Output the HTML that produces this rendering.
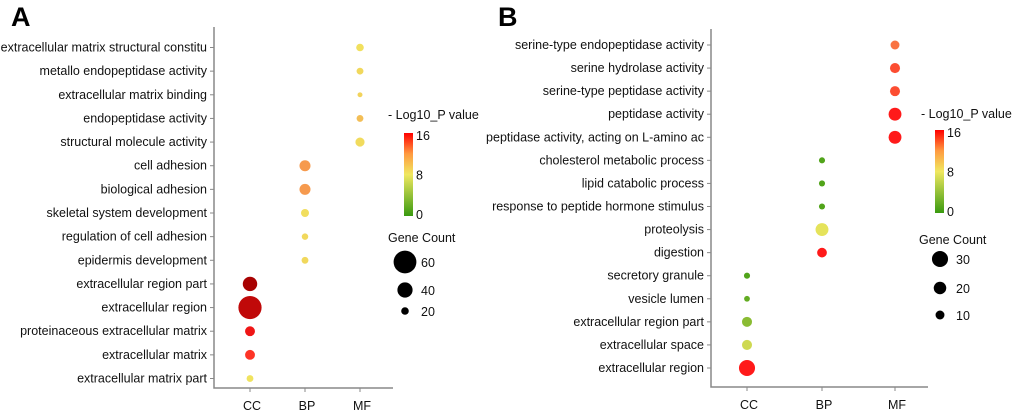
<!DOCTYPE html>
<html><head><meta charset="utf-8"><style>
body{margin:0;background:#fff;}
svg{display:block;font-family:"Liberation Sans",Arial,sans-serif;}
</style></head><body>
<svg id="c" width="1020" height="417" viewBox="0 0 1020 417">
<defs>
<linearGradient id="cb" x1="0" y1="1" x2="0" y2="0">
<stop offset="0" stop-color="#3a9a10"/><stop offset="0.5" stop-color="#f0e860"/><stop offset="0.75" stop-color="#ff9a40"/><stop offset="1" stop-color="#ff0000"/>
</linearGradient>
</defs>
</svg>
<script>
// Panel A data
const catsA = ["extracellular matrix structural constitu","metallo endopeptidase activity","extracellular matrix binding","endopeptidase activity","structural molecule activity","cell adhesion","biological adhesion","skeletal system development","regulation of cell adhesion","epidermis development","extracellular region part","extracellular region","proteinaceous extracellular matrix","extracellular matrix","extracellular matrix part"];
const groupA = ["MF","MF","MF","MF","MF","BP","BP","BP","BP","BP","CC","CC","CC","CC","CC"];
const countA = [20,18,13,18,24,29,29,21,17,18,38,61,26,26,18];
const pvalA = [8.3,8.6,8.8,9.6,8.5,11,11,8.4,8.6,8.6,21.5,20,17,15,8.2];
const sizeTicksA = [60,40,20];
// Panel B data
const catsB = ["serine-type endopeptidase activity","serine hydrolase activity","serine-type peptidase activity","peptidase activity","peptidase activity, acting on L-amino ac","cholesterol metabolic process","lipid catabolic process","response to peptide hormone stimulus","proteolysis","digestion","secretory granule","vesicle lumen","extracellular region part","extracellular space","extracellular region"];
const groupB = ["MF","MF","MF","MF","MF","BP","BP","BP","BP","BP","CC","CC","CC","CC","CC"];
const countB = [10,13,13,21,21,2,2,2,21,12,2,1,13,13,30];
const pvalB = [12.5,14,14,16,16,1,1,1,7.5,16,1,1.8,3.5,6.5,16];
const sizeTicksB = [30,20,10];
const groups = ["CC","BP","MF"];
const colorTicks = [16,8,0];

const svg=document.getElementById('c');
const NS='http://www.w3.org/2000/svg';
function mk(tag,attrs,parent){const e=document.createElementNS(NS,tag);for(const k in attrs)e.setAttribute(k,attrs[k]);(parent||svg).appendChild(e);return e;}
function lerp(a,b,t){return a+(b-a)*t;}
function hex(c){return [parseInt(c.slice(1,3),16),parseInt(c.slice(3,5),16),parseInt(c.slice(5,7),16)];}
const stops=[[0,"#3a9a10"],[8,"#f0e860"],[12,"#f88048"],[16,"#ff1a1a"],[22,"#a00000"]];
function color(v){
  if(v<=stops[0][0])return stops[0][1];
  for(let i=1;i<stops.length;i++){if(v<=stops[i][0]){const t=(v-stops[i-1][0])/(stops[i][0]-stops[i-1][0]);const a=hex(stops[i-1][1]),b=hex(stops[i][1]);return `rgb(${Math.round(lerp(a[0],b[0],t))},${Math.round(lerp(a[1],b[1],t))},${Math.round(lerp(a[2],b[2],t))})`;}}
  return stops[stops.length-1][1];
}
function panel(o){
  const g=mk('g',{});
  
  
  const t=mk('text',{x:o.letterX,y:26,'font-size':27,'font-weight':'bold',fill:'#000'},g);t.textContent=o.letter;
  
  const n=o.cats.length;
  const yS=i=>o.yTop+(o.yBot-o.yTop)*i/(n-1);
  const xS=gr=>o.gx[groups.indexOf(gr)];
  const ax=mk('path',{d:`M${o.ax} ${o.axTop}V${o.axBot}H${o.axRight}`,stroke:'#888',fill:'none','stroke-width':1.5},g);
  
  o.cats.forEach((c,i)=>{
    const y=yS(i);
    mk('line',{x1:o.ax-4,x2:o.ax,y1:y,y2:y,stroke:'#888'},g);
    const tx=mk('text',{x:o.ax-7,y:y+4,'font-size':12.5,'text-anchor':'end',fill:'#111'},g);tx.textContent=c;
    
    const ci=mk('circle',{cx:xS(o.group[i]),cy:y,r:o.r(o.count[i]),fill:color(o.pval[i])},g);
    
  });
  groups.forEach(gr=>{
    mk('line',{x1:xS(gr),x2:xS(gr),y1:o.axBot,y2:o.axBot+4,stroke:'#888'},g);
    const tx=mk('text',{x:xS(gr)+2,y:o.axBot+22,'font-size':12.5,'text-anchor':'middle',fill:'#111'},g);tx.textContent=gr;
    
  });
  const lt=mk('text',{x:o.lx,y:o.ly,'font-size':12.5,fill:'#111'},g);lt.textContent='- Log10_P value';
  
  const bar=mk('rect',{x:o.cbx,y:o.cbTop,width:9,height:o.cbBot-o.cbTop,fill:'url(#cb)'},g);
  
  colorTicks.forEach(v=>{
    const y=o.cbBot-(o.cbBot-o.cbTop)*v/16;
    const tx=mk('text',{x:o.cbx+12,y:y+(v==16?7:v==0?3:5),'font-size':12.5,fill:'#111'},g);tx.textContent=v;
    
  });
  const st=mk('text',{x:o.sx,y:o.sy,'font-size':12.5,fill:'#111'},g);st.textContent='Gene Count';
  
  o.sizeTicks.forEach((v,i)=>{
    const y=o.sy+o.sdy[i];
    const ci=mk('circle',{cx:o.scx,cy:y,r:o.r(v),fill:'#000'},g);
    
    const tx=mk('text',{x:o.scx+16,y:y+5,'font-size':12.5,fill:'#111'},g);tx.textContent=v;
    
  });
}
panel({name:'panel-a',letter:'A',letterX:11,cats:catsA,group:groupA,count:countA,pval:pvalA,sizeTicks:sizeTicksA,
 yTop:47.5,yBot:378.5,ax:214,axTop:27,axBot:388,axRight:393,gx:[250,305,360],
 r:c=>c*0.19,lx:388,ly:119,cbx:404,cbTop:133,cbBot:216,sx:388,sy:242,sdy:[20,48,69],scx:405});
panel({name:'panel-b',letter:'B',letterX:498,cats:catsB,group:groupB,count:countB,pval:pvalB,sizeTicks:sizeTicksB,
 yTop:45,yBot:368,ax:711,axTop:29,axBot:387,axRight:928,gx:[747,822,895],
 r:c=>2.7+c*0.178,lx:921,ly:118,cbx:935,cbTop:130,cbBot:213,sx:919,sy:244,sdy:[15,44,71],scx:940});
</script>
</body></html>
